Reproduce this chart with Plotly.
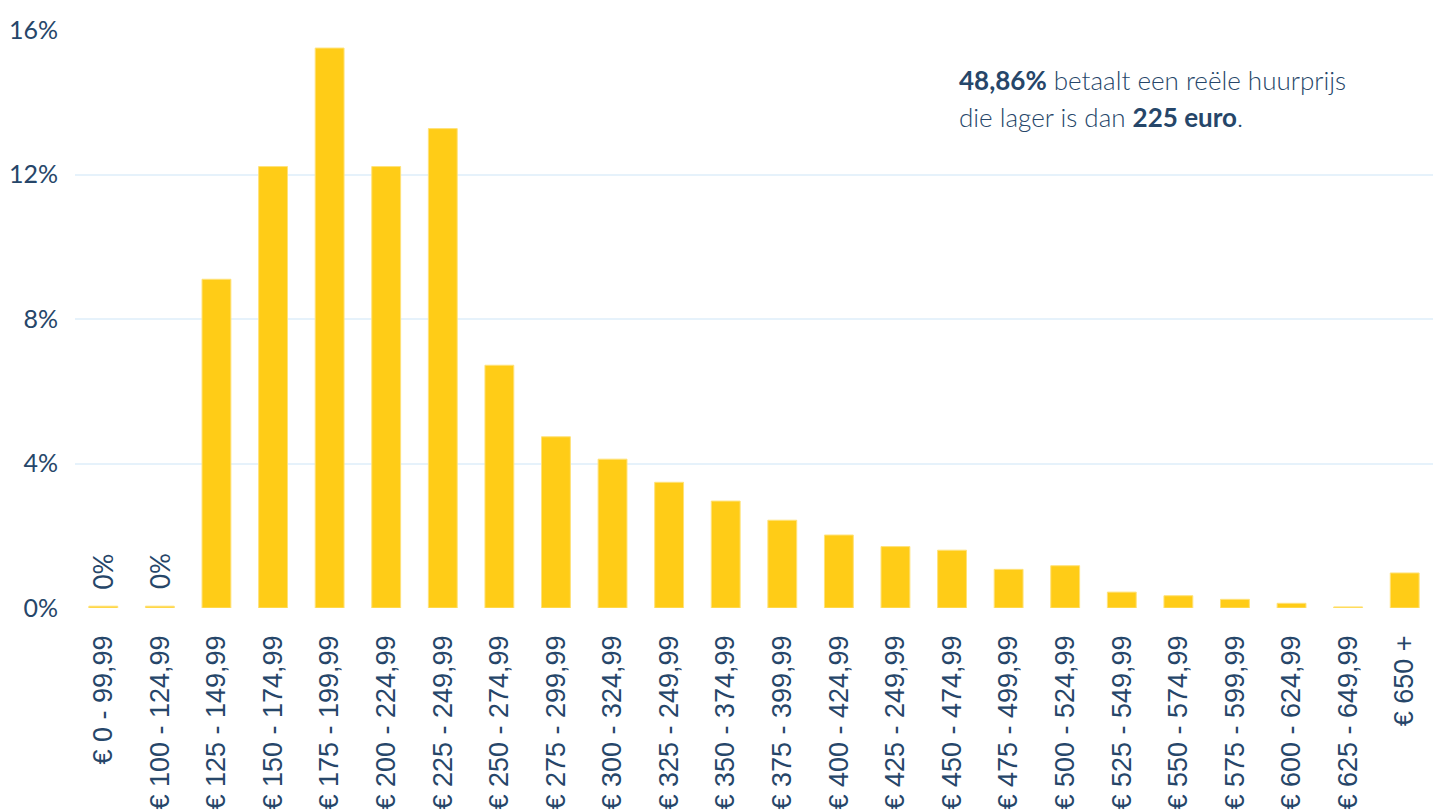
import plotly.graph_objects as go

categories = [
    "€ 0 - 99,99", "€ 100 - 124,99", "€ 125 - 149,99", "€ 150 - 174,99",
    "€ 175 - 199,99", "€ 200 - 224,99", "€ 225 - 249,99", "€ 250 - 274,99",
    "€ 275 - 299,99", "€ 300 - 324,99", "€ 325 - 249,99", "€ 350 - 374,99",
    "€ 375 - 399,99", "€ 400 - 424,99", "€ 425 - 249,99", "€ 450 - 474,99",
    "€ 475 - 499,99", "€ 500 - 524,99", "€ 525 - 549,99", "€ 550 - 574,99",
    "€ 575 - 599,99", "€ 600 - 624,99", "€ 625 - 649,99", "€ 650 +",
]
values = [
    0.05, 0.05, 9.10, 12.22, 15.50, 12.22, 13.27, 6.72,
    4.74, 4.12, 3.48, 2.96, 2.43, 2.02, 1.70, 1.60,
    1.07, 1.17, 0.44, 0.34, 0.24, 0.13, 0.03, 0.97,
]
value_labels = ["0%", "0%"] + [""] * 22
y_ticks = [0, 4, 8, 12, 16]
y_tick_labels = ["0%", "4%", "8%", "12%", "16%"]

NAVY = "#264669"
YELLOW = "#FFCC17"
GRID = "#E6F2FB"

fig = go.Figure()
fig.add_trace(go.Bar(
    x=categories, y=values,
    marker=dict(color=YELLOW, line=dict(color="#FFE27A", width=1)),
    hoverinfo="x+y",
))

for cat, val, lab in zip(categories, values, value_labels):
    if lab:
        fig.add_annotation(
            x=cat, y=val, text=lab, showarrow=False, textangle=-90,
            yanchor="bottom", xanchor="center", yshift=15,
            font=dict(family="Lato", size=26, color=NAVY),
        )

fig.add_annotation(
    xref="paper", yref="paper", x=0.6495, y=0.9135,
    xanchor="left", yanchor="middle", align="left", showarrow=False,
    text="<b>48,86%</b> betaalt een reële huurprijs",
    font=dict(family="Lato", size=26, color=NAVY, weight=300),
)
fig.add_annotation(
    xref="paper", yref="paper", x=0.6495, y=0.8495,
    xanchor="left", yanchor="middle", align="left", showarrow=False,
    text="die lager is dan <b>225 euro</b>.",
    font=dict(family="Lato", size=26, color=NAVY, weight=300),
)

fig.update_layout(
    width=1445, height=810,
    margin=dict(l=75, r=12, t=30, b=202),
    paper_bgcolor="white", plot_bgcolor="white",
    bargap=0.49,
    showlegend=False,
    xaxis=dict(
        type="category", tickangle=-90, showgrid=False, zeroline=False,
        showline=False, ticks="", automargin=False, ticklabelstandoff=21,
        tickfont=dict(family="Liberation Sans, Arial", size=27, color=NAVY),
    ),
    yaxis=dict(
        range=[0, 16], tickvals=y_ticks, ticktext=y_tick_labels,
        showgrid=True, gridcolor=GRID, gridwidth=2, zeroline=False,
        showline=False, ticks="", automargin=False, ticklabelstandoff=16,
        tickfont=dict(family="Lato", size=25, color=NAVY),
    ),
)

fig.write_html(
    "out.html",
    config={"displayModeBar": False},
    post_script="document.body.style.margin='0';",
)
